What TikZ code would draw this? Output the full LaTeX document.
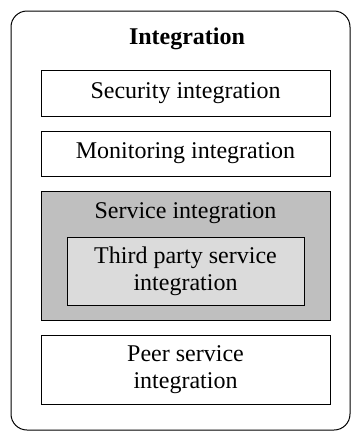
\documentclass[tikz,border=0pt]{standalone}
\usepackage{fontspec}
\setmainfont{Liberation Serif}
\begin{document}
\begin{tikzpicture}[x=1pt,y=-1pt,
  box/.style={draw, line width=0.9pt, fill=white},
  lbl/.style={font=\fontsize{24}{27}\selectfont, align=center, inner sep=0pt}]
\useasboundingbox (0,0) rectangle (351,432);
% outer frame
\draw[line width=1pt, rounded corners=16pt] (11,11) rectangle (350,430);
\node[font=\bfseries\fontsize{24}{27}\selectfont, inner sep=0pt] (title) at (187,39) {Integration};
% layers
\draw[box] (41,70) rectangle (330,116);
\node[lbl] (sec) at (185.5,93) {Security integration};
\draw[box] (41,131) rectangle (330,176);
\node[lbl] (mon) at (185.5,153.5) {Monitoring integration};
\draw[box, fill=black!25] (41,191) rectangle (330,320);
\node[lbl] (svc) at (185.5,213) {Service integration};
\draw[box, fill=black!14] (67,237) rectangle (304,305);
\node[lbl] (third) at (185.5,271) {Third party service\\integration};
\draw[box] (41,335) rectangle (330,404);
\node[lbl] (peer) at (185.5,369.5) {Peer service\\integration};
\end{tikzpicture}
\end{document}
